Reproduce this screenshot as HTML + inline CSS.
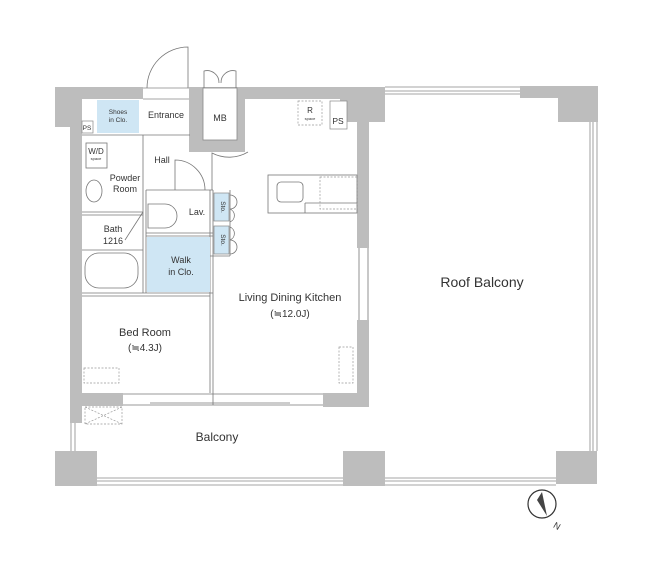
<!DOCTYPE html>
<html><head><meta charset="utf-8"><style>
html,body{margin:0;padding:0;background:#fff;}
svg{display:block;font-family:"Liberation Sans",sans-serif;}
text{fill:#333;}
</style></head><body>
<svg width="647" height="567" viewBox="0 0 647 567" xmlns="http://www.w3.org/2000/svg">
<g fill="none" stroke="#888" stroke-width="0.8">
<line x1="385" y1="87" x2="520" y2="87"/><line x1="385" y1="91" x2="520" y2="91"/><line x1="385" y1="94" x2="520" y2="94"/>
<line x1="590" y1="122" x2="590" y2="451"/><line x1="593" y1="122" x2="593" y2="451"/><line x1="597" y1="122" x2="597" y2="451"/>
<line x1="97" y1="478" x2="556" y2="478"/><line x1="97" y1="481" x2="556" y2="481"/><line x1="97" y1="485" x2="556" y2="485"/>
<line x1="71" y1="423" x2="71" y2="451"/><line x1="75" y1="423" x2="75" y2="451"/>
<line x1="143" y1="88" x2="189" y2="88"/><line x1="143" y1="99" x2="189" y2="99"/>
</g>
<g fill="#bdbdbd" stroke="none">
<rect x="55" y="87" width="88" height="12"/>
<rect x="55" y="87" width="27" height="40"/>
<rect x="70" y="99" width="12" height="324"/>
<rect x="189" y="87" width="56" height="65"/>
<rect x="245" y="87" width="140" height="12"/>
<rect x="340" y="87" width="45" height="35"/>
<rect x="357" y="99" width="12" height="149"/>
<rect x="357" y="320" width="12" height="87"/>
<rect x="323" y="393" width="46" height="14"/>
<rect x="70" y="393" width="53" height="13"/>
<rect x="55" y="451" width="42" height="35"/>
<rect x="343" y="451" width="42" height="35"/>
<rect x="556" y="451" width="41" height="33"/>
<rect x="520" y="86" width="78" height="12"/>
<rect x="558" y="86" width="40" height="36"/>
</g>
<rect x="203" y="88" width="34" height="52" fill="#fff" stroke="#888" stroke-width="0.8"/>
<text x="220" y="121" font-size="9" text-anchor="middle">MB</text>
<g fill="none" stroke="#777" stroke-width="0.8">
<path d="M204 88 V71 A12 12 0 0 1 219 83"/>
<path d="M236 88 V71 A12 12 0 0 0 221 83"/>
<path d="M188 88 V47 A41 41 0 0 0 147 88"/>
<line x1="123" y1="394" x2="323" y2="394"/><line x1="123" y1="405" x2="323" y2="405"/>
<line x1="150" y1="403" x2="290" y2="403"/>
<line x1="213" y1="393" x2="213" y2="405"/>
<line x1="359" y1="248" x2="359" y2="320"/><line x1="368" y1="248" x2="368" y2="320"/>
<line x1="82" y1="135" x2="190" y2="135"/>
<line x1="143" y1="135" x2="143" y2="293"/><line x1="146" y1="190" x2="146" y2="293"/>
<line x1="82" y1="212" x2="143" y2="212"/><line x1="82" y1="215" x2="143" y2="215"/>
<line x1="82" y1="250" x2="143" y2="250"/>
<line x1="82" y1="293" x2="213" y2="293"/><line x1="82" y1="296" x2="210" y2="296"/>
<line x1="146" y1="190" x2="213" y2="190"/><line x1="146" y1="233" x2="213" y2="233"/><line x1="146" y1="236" x2="213" y2="236"/>
<line x1="210" y1="190" x2="210" y2="393"/><line x1="213" y1="190" x2="213" y2="393"/>
<line x1="230" y1="190" x2="230" y2="256"/>
<line x1="210" y1="256" x2="230" y2="256"/>
<path d="M175 190 V160 A30 30 0 0 1 205 190"/>
<path d="M212 190 V153 A37 37 0 0 0 248 152"/>
<path d="M230 195 A7 7 0 0 1 230 209 A7 7 0 0 1 230 222"/>
<path d="M230 227 A7 7 0 0 1 230 240 A7 7 0 0 1 230 254"/>
<path d="M143 212 L125 240"/>
<rect x="268" y="175" width="89" height="38"/>
<rect x="277" y="182" width="26" height="20" rx="4"/>
<line x1="305" y1="203" x2="357" y2="203"/>
<line x1="305" y1="203" x2="305" y2="213"/>
<ellipse cx="94" cy="191" rx="8" ry="11"/>
<rect x="86" y="143" width="21" height="25"/>
<rect x="85" y="253" width="53" height="35" rx="14"/>
<path d="M148 204 H165 A12 12 0 0 1 165 228 H148 Z"/>
<circle cx="542" cy="504" r="14" stroke="#333" stroke-width="1.2"/>
</g>
<polygon points="542,492 547,516 537,500" fill="#444"/>
<g fill="none" stroke="#999" stroke-width="0.7" stroke-dasharray="2,1.5">
<rect x="298" y="101" width="24" height="24"/>
<rect x="320" y="177" width="37" height="32"/>
<rect x="84" y="368" width="35" height="15"/>
<rect x="85" y="407" width="37" height="17"/>
<rect x="339" y="347" width="14" height="36"/>
<line x1="85" y1="407" x2="122" y2="424"/><line x1="122" y1="407" x2="85" y2="424"/>
<line x1="147" y1="252" x2="210" y2="252"/>
</g>
<rect x="97" y="100" width="42" height="33" fill="#cfe6f4"/>
<rect x="147" y="237" width="63" height="55" fill="#cfe6f4"/>
<rect x="214" y="193" width="15" height="28" fill="#cfe6f4" stroke="#888" stroke-width="0.7"/>
<rect x="214" y="226" width="15" height="28" fill="#cfe6f4" stroke="#888" stroke-width="0.7"/>
<rect x="330" y="101" width="17" height="28" fill="#fff" stroke="#888" stroke-width="0.7"/>
<rect x="82" y="121" width="11" height="12" fill="#fff" stroke="#888" stroke-width="0.7"/>
<g font-size="9" text-anchor="middle">
<text x="118" y="114" font-size="6.5">Shoes</text><text x="118" y="122" font-size="6.5">in Clo.</text>
<text x="166" y="118">Entrance</text>
<text x="310" y="113" font-size="8">R</text><text x="310" y="120" font-size="4">space</text>
<text x="338" y="124" font-size="8.5">PS</text>
<text x="87" y="130" font-size="6.5">PS</text>
<text x="96" y="154" font-size="8">W/D</text><text x="96" y="160" font-size="4">space</text>
<text x="162" y="163">Hall</text>
<text x="125" y="181">Powder</text><text x="125" y="192">Room</text>
<text x="197" y="215">Lav.</text>
<text x="113" y="232">Bath</text><text x="113" y="244">1216</text>
<text x="181" y="263">Walk</text><text x="181" y="275">in Clo.</text>
<text x="145" y="336" font-size="11">Bed Room</text><text x="145" y="351" font-size="10">(≒4.3J)</text>
<text x="290" y="301" font-size="11">Living Dining Kitchen</text><text x="290" y="317" font-size="10">(≒12.0J)</text>
<text x="217" y="441" font-size="12">Balcony</text>
<text x="482" y="287" font-size="14">Roof Balcony</text>
<text x="557" y="529" font-size="9" transform="rotate(30 557 526)">N</text>
</g>
<g font-size="6.5" text-anchor="middle">
<text x="221" y="207" transform="rotate(90 221 207)">Sto.</text>
<text x="221" y="240" transform="rotate(90 221 240)">Sto.</text>
</g>
</svg>
</body></html>
